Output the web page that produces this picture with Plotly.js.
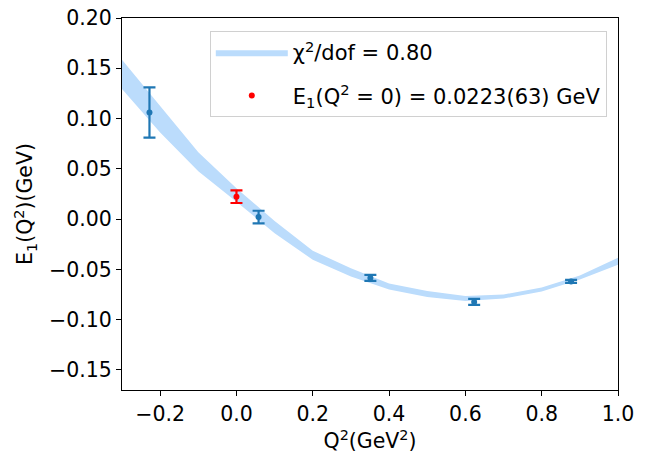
<!DOCTYPE html>
<html>
<head>
<meta charset="utf-8">
<script src="https://cdn.plot.ly/plotly-3.0.1.min.js"></script>
<style>
  html, body { margin: 0; padding: 0; background: #fff; }
  #chart { width: 646px; height: 464px; }
</style>
</head>
<body>
<div id="chart"></div>
<script>
// fit band
var bandQ2 = [-0.3, -0.2, -0.1, 0.0, 0.1, 0.2, 0.3, 0.4, 0.5, 0.6, 0.7, 0.8, 0.9, 1.0];
var bandMid = [0.144, 0.099, 0.057, 0.024, -0.008, -0.036, -0.053, -0.067, -0.0745, -0.079, -0.077, -0.070, -0.058, -0.042];
var bandHalf = [0.0145, 0.013, 0.0095, 0.0067, 0.006, 0.0045, 0.004, 0.003, 0.003, 0.0025, 0.002, 0.002, 0.002, 0.0035];

// lattice points
var dataQ2 = [-0.228, 0.058, 0.351, 0.623, 0.877];
var dataE1 = [0.106, 0.002, -0.0585, -0.0824, -0.062];
var dataErr = [0.025, 0.0063, 0.003, 0.003, 0.0015];

// extrapolated value at Q^2 = 0
var zeroQ2 = [0.0];
var zeroE1 = [0.0223];
var zeroErr = [0.0063];

function makeBand(q, mid, half) {
    var xs = [], ys = [];
    for (var i = 0; i < q.length; i++) {
        xs.push(q[i]);
        ys.push(mid[i] + half[i]);
    }
    for (var j = q.length - 1; j >= 0; j--) {
        xs.push(q[j]);
        ys.push(mid[j] - half[j]);
    }
    return {x: xs, y: ys};
}

var b = makeBand(bandQ2, bandMid, bandHalf);

var band = {
    x: b.x,
    y: b.y,
    type: 'scatter',
    mode: 'lines',
    fill: 'toself',
    fillcolor: 'rgb(187,220,252)',
    line: {width: 0, color: 'rgb(187,220,252)'},
    name: 'χ<sup>2</sup>/dof = 0.80',
    legendgroup: 'fit',
    hoverinfo: 'skip'
};

var points = {
    x: dataQ2,
    y: dataE1,
    type: 'scatter',
    mode: 'markers',
    marker: {color: '#1f77b4', size: 6},
    error_y: {type: 'data', array: dataErr, visible: true, color: '#1f77b4', thickness: 2.2, width: 6},
    showlegend: false
};

var zero = {
    x: zeroQ2,
    y: zeroE1,
    type: 'scatter',
    mode: 'markers',
    marker: {color: 'red', size: 6},
    error_y: {type: 'data', array: zeroErr, visible: true, color: 'red', thickness: 2.2, width: 6},
    name: 'E<sub>1</sub>(Q<sup>2</sup> = 0) = 0.0223(63) GeV',
    legendgroup: 'zero'
};

var axisCommon = {
    showgrid: false,
    zeroline: false,
    showline: true,
    mirror: true,
    linecolor: 'black',
    linewidth: 1,
    ticks: 'outside',
    ticklen: 5,
    tickcolor: 'black',
    tickfont: {size: 20.5, color: 'black'}
};

var layout = {
    width: 646,
    height: 464,
    margin: {l: 122, r: 28, t: 18, b: 74},
    paper_bgcolor: 'white',
    plot_bgcolor: 'white',
    font: {family: 'DejaVu Sans', color: 'black'},
    xaxis: Object.assign({}, axisCommon, {
        range: [-0.3, 1.0],
        tickvals: [-0.2, 0.0, 0.2, 0.4, 0.6, 0.8, 1.0],
        tickformat: '.1f',
        title: {text: 'Q<sup>2</sup>(GeV<sup>2</sup>)', font: {size: 20.5}, standoff: 9}
    }),
    yaxis: Object.assign({}, axisCommon, {
        range: [-0.17, 0.20],
        tickvals: [-0.15, -0.10, -0.05, 0.00, 0.05, 0.10, 0.15, 0.20],
        tickformat: '.2f',
        title: {text: 'E<sub>1</sub>(Q<sup>2</sup>)(GeV)', font: {size: 20.5}, standoff: 10}
    }),
    legend: {
        x: 0.177,
        y: 0.965,
        xanchor: 'left',
        yanchor: 'top',
        bgcolor: 'rgba(255,255,255,0.8)',
        bordercolor: '#d0d0d0',
        borderwidth: 1,
        font: {size: 21, color: 'black'},
        traceorder: 'grouped',
        tracegroupgap: 13,
        itemwidth: 72
    },
    showlegend: true
};

Plotly.newPlot('chart', [band, points, zero], layout, {staticPlot: true});
</script>
</body>
</html>
